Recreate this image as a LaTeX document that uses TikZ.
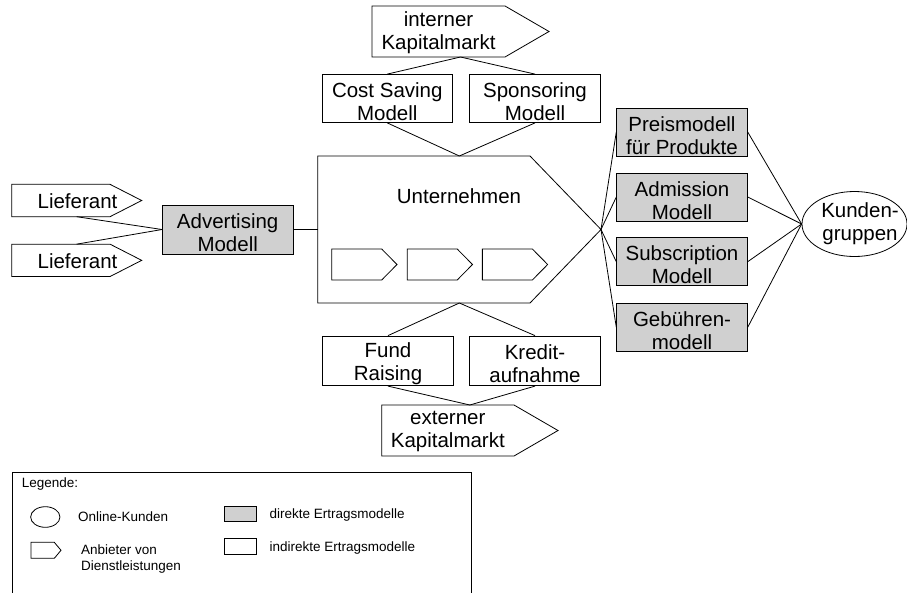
\documentclass[tikz,border=0pt]{standalone}
\usepackage{fontspec}
\setmainfont{Liberation Sans}
\usetikzlibrary{calc,shapes.geometric}
\definecolor{directfill}{RGB}{208,208,208}

\newcommand\bigtext{\fontsize{20.5}{23}\selectfont}
\newcommand\legtext{\fontsize{13.5}{16}\selectfont}

\tikzset{
  line/.style={draw=black, line width=0.8pt},
  model/.style={line, minimum width=130.6pt, minimum height=48pt, inner sep=0pt},
  direkt/.style={model, fill=directfill},
  lbl/.style={align=center, inner sep=0pt, font=\bigtext},
  frame/.style={inner sep=0pt, outer sep=0pt},
  legbox/.style={line, minimum width=32.7pt, inner sep=0pt},
  legtxt/.style={anchor=west, inner sep=0pt, font=\legtext, align=left},
}

% outline of a pointer shape drawn on the frame of node #1, tip depth #2
\newcommand\pointershape[2]{%
  \draw[line] (#1.north west) -- ($(#1.north east)+(-#2,0)$) -- (#1.east)
    -- ($(#1.south east)+(-#2,0)$) -- (#1.south west) -- cycle;}
% two-line caption set a little below the middle of box #1
\newcommand\boxcaption[2]{\node[lbl] (#1txt) at ($(#1.center)+(0,3.2)$) {#2};}

\begin{document}
\begin{tikzpicture}[x=1pt,y=-1pt]
\fill[white] (0,0) rectangle (907,592);
\useasboundingbox (0,0) rectangle (907,592);
\clip (0,0) rectangle (907,592);

% internal capital market and the models above the company
\node[frame, minimum width=177pt, minimum height=51pt] (intk) at (460.5,31.5) {};
\pointershape{intk}{44}
\node[lbl] (intktxt) at (438.5,33) {interner\\Kapitalmarkt};
\node[model] (cost) at (387.3,98.5) {};
\boxcaption{cost}{Cost Saving\\Modell}
\node[model] (spons) at (535,98.5) {};
\boxcaption{spons}{Sponsoring\\Modell}

% the company with its value chain
\node[frame, minimum width=283.3pt, minimum height=147pt] (unt) at (459.35,229.5) {};
\pointershape{unt}{71}
\node[lbl] (unttxt) at (459,196.5) {Unternehmen};
\node[frame, minimum width=65.3pt, minimum height=31pt] (vc1) at (364.35,264.5) {};
\pointershape{vc1}{15.3}
\node[frame, minimum width=65.3pt, minimum height=31pt] (vc2) at (439.85,264.5) {};
\pointershape{vc2}{15.3}
\node[frame, minimum width=65.3pt, minimum height=31pt] (vc3) at (515,264.5) {};
\pointershape{vc3}{15.3}

% suppliers and advertising
\node[direkt, minimum height=49pt] (adv) at (227.7,229.5) {};
\boxcaption{adv}{Advertising\\Modell}
\node[frame, minimum width=130pt, minimum height=32.4pt] (lief1) at (76.7,200.5) {};
\pointershape{lief1}{31.7}
\node[lbl] (lief1txt) at (77.5,201.5) {Lieferant};
\node[frame, minimum width=130pt, minimum height=32.4pt] (lief2) at (76.7,260.35) {};
\pointershape{lief2}{31.7}
\node[lbl] (lief2txt) at (77.5,261.5) {Lieferant};

% direct revenue models and customers
\node[direkt] (preis) at (682,132) {};
\boxcaption{preis}{Preismodell\\für Produkte}
\node[direkt] (adm) at (682,197) {};
\boxcaption{adm}{Admission\\Modell}
\node[direkt] (subs) at (682,261.7) {};
\boxcaption{subs}{Subscription\\Modell}
\node[direkt] (geb) at (682,327.3) {};
\boxcaption{geb}{Gebühren-\\modell}
\node[line, ellipse, minimum width=105pt, minimum height=65pt, inner sep=0pt] (kund) at (854.5,224) {};
\node[lbl] (kundtxt) at (860,224) {Kunden-\\gruppen};

% external financing
\node[model, minimum height=49.7pt] (fund) at (388,360.85) {};
\boxcaption{fund}{Fund\\Raising}
\node[model, minimum height=49.7pt] (kredit) at (535,360.85) {};
\boxcaption{kredit}{Kredit-\\aufnahme}
\node[frame, minimum width=176.3pt, minimum height=51pt] (extk) at (469.85,430.5) {};
\pointershape{extk}{44}
\node[lbl] (extktxt) at (447.8,431.5) {externer\\Kapitalmarkt};

% connectors
\draw[line] (intk.south) -- (cost.north);
\draw[line] (intk.south) -- (spons.north);
\draw[line] (cost.south) -- (unt.north);
\draw[line] (spons.south) -- (unt.north);
\draw[line] (lief1.south) -- (adv.west);
\draw[line] (lief2.north) -- (adv.west);
\draw[line] (adv.east) -- (unt.west);
\foreach \m in {preis,adm,subs,geb}{
  \draw[line] (unt.east) -- (\m.west);
  \draw[line] (\m.east) -- (kund.west);
}
\draw[line] (unt.south) -- (fund.north);
\draw[line] (unt.south) -- (kredit.north);
\draw[line] (fund.south) -- (extk.north);
\draw[line] (kredit.south) -- (extk.north);

% legend
\node[frame, line, anchor=north west, minimum width=458.7pt, minimum height=140pt] (leg) at (12.3,472.3) {};
\node[legtxt] (legtitle) at (21.7,484.5) {Legende:};
\node[line, ellipse, minimum width=29.3pt, minimum height=20.6pt, inner sep=0pt] (legell) at (45.3,517) {};
\node[legtxt] (legelltxt) at (78,517) {Online-Kunden};
\node[frame, minimum width=30pt, minimum height=16pt] (legptr) at (46,550.3) {};
\pointershape{legptr}{6.7}
\node[legtxt] (legptrtxt) at (81,558.5) {Anbieter von\\Dienstleistungen};
\node[legbox, fill=directfill, minimum height=15pt] (legdir) at (240.35,514.2) {};
\node[legtxt] (legdirtxt) at (269.3,515.5) {direkte Ertragsmodelle};
\node[legbox, minimum height=16pt] (legind) at (240.35,546.3) {};
\node[legtxt] (legindtxt) at (269.3,548) {indirekte Ertragsmodelle};
\end{tikzpicture}
\end{document}
